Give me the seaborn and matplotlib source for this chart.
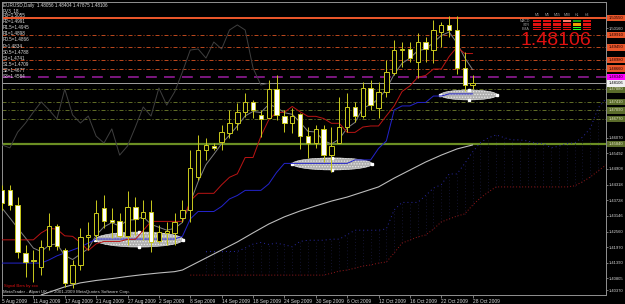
import numpy as np
import pandas as pd
import matplotlib
matplotlib.use("Agg")
import matplotlib.pyplot as plt
import matplotlib.transforms as mtransforms
from matplotlib.patches import Ellipse, Rectangle
import seaborn as sns

# ---------------- data ----------------
symbol = "EURUSD"
timeframe = "Daily"
indicator_name = "PV3_18"

date_labels = ["5 Aug 2009", "11 Aug 2009", "17 Aug 2009", "21 Aug 2009", "27 Aug 2009",
               "2 Sep 2009", "8 Sep 2009", "14 Sep 2009", "18 Sep 2009", "24 Sep 2009",
               "30 Sep 2009", "6 Oct 2009", "12 Oct 2009", "16 Oct 2009", "22 Oct 2009",
               "28 Oct 2009"]
date_label_bars = [0, 4, 8, 12, 16, 20, 24, 28, 32, 36, 40, 44, 48, 52, 56, 60]

opens = [1.4411, 1.4411, 1.4355, 1.4176, 1.4150, 1.4123, 1.4202, 1.4277, 1.4187, 1.4064,
         1.4131, 1.4236, 1.4243, 1.4344, 1.4299, 1.4295, 1.4239, 1.4348, 1.4307, 1.4329,
         1.4221, 1.4251, 1.4251, 1.4307, 1.4337, 1.4460, 1.4561, 1.4576, 1.4591, 1.4625,
         1.4662, 1.4703, 1.4741, 1.4692, 1.4681, 1.4789, 1.4688, 1.4662, 1.4696, 1.4613,
         1.4587, 1.4640, 1.4542, 1.4587, 1.4647, 1.4722, 1.4688, 1.4793, 1.4718, 1.4778,
         1.4849, 1.4935, 1.4939, 1.4890, 1.4965, 1.4935, 1.5003, 1.5029, 1.5010, 1.4868,
         1.48056]
highs = [1.4430, 1.4430, 1.4385, 1.4206, 1.4187, 1.4224, 1.4325, 1.4284, 1.4194, 1.4150,
         1.4269, 1.4292, 1.4374, 1.4393, 1.4344, 1.4325, 1.4408, 1.4385, 1.4374, 1.4374,
         1.4281, 1.4292, 1.4325, 1.4374, 1.4561, 1.4617, 1.4606, 1.4587, 1.4655, 1.4711,
         1.4737, 1.4774, 1.4748, 1.4711, 1.4823, 1.4842, 1.4711, 1.4718, 1.4700, 1.4647,
         1.4655, 1.4655, 1.4647, 1.4759, 1.4774, 1.4741, 1.4815, 1.4823, 1.4815, 1.4898,
         1.4973, 1.4965, 1.4965, 1.4999, 1.4984, 1.5047, 1.5040, 1.5062, 1.5062, 1.4928,
         1.48404]
lows = [1.4337, 1.4337, 1.4157, 1.4086, 1.4067, 1.4093, 1.4187, 1.4187, 1.4049, 1.4045,
        1.4112, 1.4187, 1.4224, 1.4269, 1.4232, 1.4232, 1.4206, 1.4243, 1.4224, 1.4180,
        1.4213, 1.4206, 1.4206, 1.4292, 1.4292, 1.4449, 1.4524, 1.4561, 1.4561, 1.4606,
        1.4636, 1.4685, 1.4681, 1.4610, 1.4681, 1.4673, 1.4628, 1.4625, 1.4565, 1.4531,
        1.4569, 1.4516, 1.4479, 1.4587, 1.4628, 1.4666, 1.4681, 1.4711, 1.4681, 1.4759,
        1.4842, 1.4872, 1.4890, 1.4830, 1.4890, 1.4887, 1.4946, 1.4984, 1.4845, 1.4782,
        1.47875]
closes = [1.4363, 1.4355, 1.4180, 1.4142, 1.4146, 1.4198, 1.4277, 1.4202, 1.4064, 1.4131,
          1.4236, 1.4243, 1.4325, 1.4295, 1.4292, 1.4239, 1.4348, 1.4303, 1.4329, 1.4217,
          1.4254, 1.4258, 1.4292, 1.4337, 1.4494, 1.4561, 1.4580, 1.4569, 1.4628, 1.4662,
          1.4703, 1.4741, 1.4711, 1.4677, 1.4789, 1.4692, 1.4662, 1.4688, 1.4613, 1.4587,
          1.4640, 1.4542, 1.4576, 1.4647, 1.4722, 1.4688, 1.4793, 1.4729, 1.4778, 1.4853,
          1.4935, 1.4939, 1.4905, 1.4965, 1.4939, 1.5010, 1.5029, 1.5010, 1.4868, 1.4804,
          1.48106]

# Ichimoku lines (one value per bar)
tenkan = [1.4225, 1.4225, 1.4225, 1.4225, 1.4225, 1.4251, 1.4268, 1.4265, 1.4240, 1.4238,
          1.4215, 1.4185, 1.4210, 1.4219, 1.4219, 1.4219, 1.4227, 1.4227, 1.4260, 1.4294,
          1.4294, 1.4294, 1.4294, 1.4294, 1.4371, 1.4399, 1.4399, 1.4399, 1.4431, 1.4459,
          1.4472, 1.4533, 1.4533, 1.4612, 1.4674, 1.4702, 1.4702, 1.4724, 1.4704, 1.4687,
          1.4687, 1.4679, 1.4661, 1.4661, 1.4627, 1.4627, 1.4647, 1.4651, 1.4651, 1.4689,
          1.4726, 1.4780, 1.4801, 1.4833, 1.4840, 1.4864, 1.4864, 1.4911, 1.4946, 1.4922,
          1.4922]
kijun = [1.4138, 1.4138, 1.4138, 1.4138, 1.4138, 1.4138, 1.4150, 1.4165, 1.4176, 1.4187,
         1.4198, 1.4213, 1.4228, 1.4228, 1.4228, 1.4228, 1.4228, 1.4228, 1.4228, 1.4228,
         1.4228, 1.4228, 1.4228, 1.4238, 1.4303, 1.4331, 1.4331, 1.4331, 1.4350, 1.4378,
         1.4391, 1.4410, 1.4410, 1.4410, 1.4434, 1.4477, 1.4511, 1.4511, 1.4511, 1.4511,
         1.4511, 1.4511, 1.4511, 1.4511, 1.4511, 1.4524, 1.4524, 1.4524, 1.4567, 1.4595,
         1.4711, 1.4726, 1.4726, 1.4739, 1.4739, 1.4763, 1.4763, 1.4771, 1.4771, 1.4771,
         1.4771]
ichimoku_shift = 26
senkou_b_bars = list(range(24, 78))
senkou_b = [1.4093] * 18 + [1.4100, 1.4108, 1.4112, 1.4119, 1.4127, 1.4131, 1.4138, 1.4142,
            1.4176, 1.4213, 1.4224, 1.4236, 1.4243, 1.4265, 1.4292, 1.4303, 1.4314, 1.4322,
            1.4355, 1.4382, 1.4404] + [1.4423] * 10 + [1.4427, 1.4442, 1.4460, 1.4483, 1.4505]

# short weighted moving average (grey)
wma_short = [1.43440, 1.43070, 1.42690, 1.42320, 1.41941, 1.41810, 1.42053, 1.42097, 1.41667,
             1.41513, 1.41718, 1.41921, 1.42421, 1.42738, 1.42891, 1.42761, 1.42991, 1.43002,
             1.43114, 1.42830, 1.42719, 1.42612, 1.42678, 1.42901, 1.43643, 1.44423, 1.45061,
             1.45449, 1.45848, 1.46167, 1.46510, 1.46885, 1.47053, 1.47013, 1.47314, 1.47207,
             1.47007, 1.46946, 1.46651, 1.46311, 1.46283, 1.45963, 1.45837, 1.46021, 1.46433,
             1.46642, 1.47169, 1.47315, 1.47522, 1.47892, 1.48448, 1.48853, 1.49047, 1.49323,
             1.49389, 1.49633, 1.49891, 1.50026, 1.49617, 1.49060, 1.48616]

# long moving average (light grey), read at selected bars
ma_long_bars = [5, 8, 10, 12, 14, 16, 18, 20, 22, 23, 24, 26, 28, 30, 32, 34, 36, 38, 40,
                42, 44, 46, 48, 50, 52, 54, 56, 58, 60]
ma_long = [1.4019, 1.4049, 1.4064, 1.4073, 1.4080, 1.4088, 1.4095, 1.4101, 1.4106, 1.4112,
           1.4127, 1.4157, 1.4187, 1.4217, 1.4251, 1.4284, 1.4311, 1.4333, 1.4352, 1.4370,
           1.4385, 1.4404, 1.4423, 1.4456, 1.4486, 1.4516, 1.4542, 1.4565, 1.4580]

pivot_names = ["R3", "R2", "R1.5", "R1", "R0.5", "P", "S0.5", "S1", "S1.5", "S2", "S3"]
pivot_values = [1.5055, 1.4991, 1.4945, 1.4898, 1.4866, 1.4834, 1.4788, 1.4741, 1.4709,
                1.4677, 1.4584]

price_labels = [1.50745, 1.50160, 1.49576, 1.48990, 1.48406, 1.47822, 1.47240, 1.46656,
                1.46070, 1.45492, 1.44908, 1.44318, 1.43728, 1.43146, 1.42560, 1.41970,
                1.41390, 1.40805, 1.40370]

ellipse_bar = [17.5, 42.1, 59.5]
ellipse_price = [1.4226, 1.4509, 1.4767]
ellipse_width_bars = [11.2, 10.2, 7.3]
ellipse_height_price = [0.0056, 0.0045, 0.0037]

signal_timeframes = ["M1", "M5", "M15", "M30", "H1", "H4"]
signal_rows = ["MACD", "STR", "EMA"]
signal_states = [["dn", "dn", "dn", "wk", "up", "dn"],
                 ["dn", "dn", "dn", "dn", "nt", "dn"],
                 ["dn", "dn", "dn", "dn", "up2", "dn"]]

footer_text = "MetaTrader - Alpari UK, \u00a9 2001-2009 MetaQuotes Software Corp."
signal_credit = "Signal Bars by xxx"

# ---------------- styling ----------------
sns.set_theme(style="dark", rc={"axes.facecolor": "black", "figure.facecolor": "black"})
plt.rcParams["font.family"] = ["Liberation Sans", "DejaVu Sans"]
plt.rcParams["hatch.linewidth"] = 0.6

W, H = 625, 304
fig = plt.figure(figsize=(W / 100, H / 100), dpi=100, facecolor="black")
ax = fig.add_axes([2 / W, 9 / H, 604 / W, 293 / H])
ax.set_facecolor("black")
ax.set_xlim(0.064, 77.0)
ax.set_ylim(1.40186, 1.51148)

px = 0.72  # one pixel in points
wick_col = "#c4c41c"
label_fs = 3.0

n = len(closes)
bars = np.arange(n)
df = pd.DataFrame({"bar": bars, "open": opens, "high": highs, "low": lows, "close": closes})

# pivot lines
r_col, s_col = "#b8461c", "#5e6a26"
for name, val in zip(pivot_names, pivot_values):
    if name == "R3":
        ax.axhline(val, color="#e8562a", lw=2 * px, zorder=1)
    elif name == "S3":
        ax.axhline(val, color="#6b8e23", lw=2.2 * px, zorder=1)
    elif name == "P":
        ax.axhline(val, color="#86198a", lw=1.8 * px, ls=(0, (6, 4)), zorder=1)
    elif name.startswith("R"):
        ax.axhline(val, color=r_col, lw=1 * px, ls=(0, (4, 2, 1, 2)), zorder=1)
    else:
        ax.axhline(val, color=s_col, lw=1 * px, ls=(0, (4, 2, 1, 2)), zorder=1)
# bid line
ax.axhline(closes[-1], color="#9a9a9a", lw=1 * px, zorder=1)

# Kumo (cloud) between Senkou A (derived) and Senkou B (read)
senkou_a = (np.array(tenkan) + np.array(kijun)) / 2.0
sa_bars = bars + ichimoku_shift
sb_map = dict(zip(senkou_b_bars, senkou_b))
cloud_x, cloud_lo, cloud_hi = [], [], []
for b, a in zip(sa_bars, senkou_a):
    if b in sb_map:
        cloud_x.append(b)
        cloud_lo.append(min(a, sb_map[b]))
        cloud_hi.append(max(a, sb_map[b]))
ax.vlines(cloud_x, cloud_lo, cloud_hi, colors="#1c1c44", lw=0.8 * px,
          linestyles=(0, (1, 3)), zorder=1.5)
sns.lineplot(x=sa_bars, y=senkou_a, ax=ax, color="#2828a0", lw=1 * px,
             linestyle=(0, (1, 3)), zorder=1.6, legend=False)
sns.lineplot(x=senkou_b_bars, y=senkou_b, ax=ax, color="#901818", lw=1 * px,
             linestyle=(0, (1, 2)), zorder=1.6, legend=False)

# ellipses (drawn objects)
for cx, cy, ew, eh in zip(ellipse_bar, ellipse_price, ellipse_width_bars, ellipse_height_price):
    e = Ellipse((cx, cy), ew, eh, facecolor="#b0b0b0", edgecolor="#e8e8e8",
                hatch="......", lw=0.6 * px, zorder=2)
    ax.add_patch(e)
    ax.plot([cx - ew / 2, cx, cx, cx + ew / 2], [cy, cy + eh / 2, cy - eh / 2, cy],
            ls="none", marker="s", ms=1.6, color="white", zorder=2.1)

# indicator lines
sns.lineplot(x=ma_long_bars, y=ma_long, ax=ax, color="#bdbdbd", lw=1.1 * px, zorder=3, legend=False)
sns.lineplot(x=bars[:n - ichimoku_shift], y=closes[ichimoku_shift:], ax=ax, color="#3e3e3e",
             lw=1 * px, zorder=3, legend=False)
sns.lineplot(x=bars, y=wma_short, ax=ax, color="#7e7e7e", lw=1 * px, zorder=3, legend=False)
sns.lineplot(x=bars, y=kijun, ax=ax, color="#2323c8", lw=1 * px, zorder=3, legend=False)
sns.lineplot(x=bars, y=tenkan, ax=ax, color="#b81414", lw=1 * px, zorder=3, legend=False)

# candles
up = df["close"] >= df["open"]
body_lo = np.minimum(df["open"], df["close"])
body_h = np.maximum(np.abs(df["close"] - df["open"]), 0.00005)
ax.vlines(df["bar"], df["low"], df["high"], colors=wick_col, lw=1 * px, zorder=4)
ax.bar(df["bar"][up], body_h[up], bottom=body_lo[up], width=0.56, facecolor="black",
       edgecolor=wick_col, lw=1 * px, zorder=5)
ax.bar(df["bar"][~up], body_h[~up], bottom=body_lo[~up], width=0.56, facecolor="white",
       edgecolor=wick_col, lw=1 * px, zorder=5)

# axes frame & ticks
for sp in ax.spines.values():
    sp.set_color("#8c8c8c")
    sp.set_linewidth(1 * px)
ax.grid(False)
ax.yaxis.tick_right()
box_levels = pivot_values + [closes[-1]]
shown_labels = [v for v in price_labels if min(abs(v - b) for b in box_levels) > 0.0022]
ax.set_yticks(shown_labels)
ax.set_yticklabels([f"{v:.5f}" for v in shown_labels])
ax.tick_params(axis="y", colors="#8c8c8c", labelcolor="#d8d8d8", labelsize=label_fs,
               length=1.2, width=0.6, pad=0.6, right=True, left=False)
ax.set_xticks(date_label_bars)
ax.set_xticklabels(date_labels, ha="left")
ax.tick_params(axis="x", colors="#8c8c8c", labelcolor="#d8d8d8", labelsize=3.5,
               length=2.5, width=0.6, pad=0.5, bottom=True)
ax.set_xlabel("")
ax.set_ylabel("")

# colored price boxes on the right scale
trans = mtransforms.blended_transform_factory(ax.transAxes, ax.transData)
for name, val in zip(pivot_names, pivot_values):
    if name.startswith("R"):
        fc, tc = "#e8562a", "#200000"
    elif name == "P":
        fc, tc = "#ff00ff", "#200020"
    else:
        fc, tc = "#5a6b2a", "#e0e0c0"
    ax.text(1.0045, val, f"{val:.5f}", transform=trans, fontsize=label_fs, color=tc,
            va="center", ha="left", zorder=10, clip_on=False,
            bbox=dict(boxstyle="square,pad=0.3", fc=fc, ec="none"))
ax.text(1.0045, closes[-1], f"{closes[-1]:.5f}", transform=trans, fontsize=label_fs,
        color="black", va="center", ha="left", zorder=10, clip_on=False,
        bbox=dict(boxstyle="square,pad=0.3", fc="#f0f0f0", ec="none"))

# top-left texts
def ftext(x, y, s, **kw):
    fig.text(x / W, 1 - y / H, s, **kw)

ftext(3, 5, f"{symbol},{timeframe}  {opens[-1]:.5f} {highs[-1]:.5f} {lows[-1]:.5f} {closes[-1]:.5f}",
      color="#dcdcdc", fontsize=3.3, va="center", ha="left")
ftext(3, 10.5, indicator_name, color="#dcdcdc", fontsize=3.3, va="center", ha="left")
for k, (name, val) in enumerate(zip(pivot_names, pivot_values)):
    ftext(3, 15.5 + 6.1 * k, f"{name}={val:.4f}", color="#dcdcdc", fontsize=3.3,
          va="center", ha="left")

# signal bars panel
state_colors = {"dn": "#e01010", "wk": "#ff7a6a", "up": "#10a010", "nt": "#f0a000", "up2": "#20ff20"}
col_x = [533, 543, 553, 563, 573, 583]
row_y = [19.5, 23.3, 27.1]
for c, tf in enumerate(signal_timeframes):
    ftext(col_x[c] + 4, 15, tf, color="#9a9a9a", fontsize=2.6, ha="center", va="center")
for r, rname in enumerate(signal_rows):
    ftext(530, row_y[r] + 1.4, rname, color="#9a9a9a", fontsize=2.6, ha="right", va="center")
    for c in range(len(signal_timeframes)):
        col = state_colors[signal_states[r][c]]
        for half in (0, 1):
            y0 = row_y[r] + half * 1.6
            fig.add_artist(Rectangle((col_x[c] / W, 1 - (y0 + 1.2) / H), 8 / W, 1.2 / H,
                                     transform=fig.transFigure, facecolor=col,
                                     edgecolor="none", zorder=20))
ftext(556, 40.5, f"{closes[-1]:.5f}", color="#e01010", fontsize=14, ha="center", va="center")

# bottom-left texts
ftext(4, 286, signal_credit, color="#e01010", fontsize=3.0, ha="left", va="center")
ftext(3, 291.5, footer_text, color="#d0d0d0", fontsize=3.2, ha="left", va="center")

fig.savefig("out.png", dpi=100, facecolor="black")
